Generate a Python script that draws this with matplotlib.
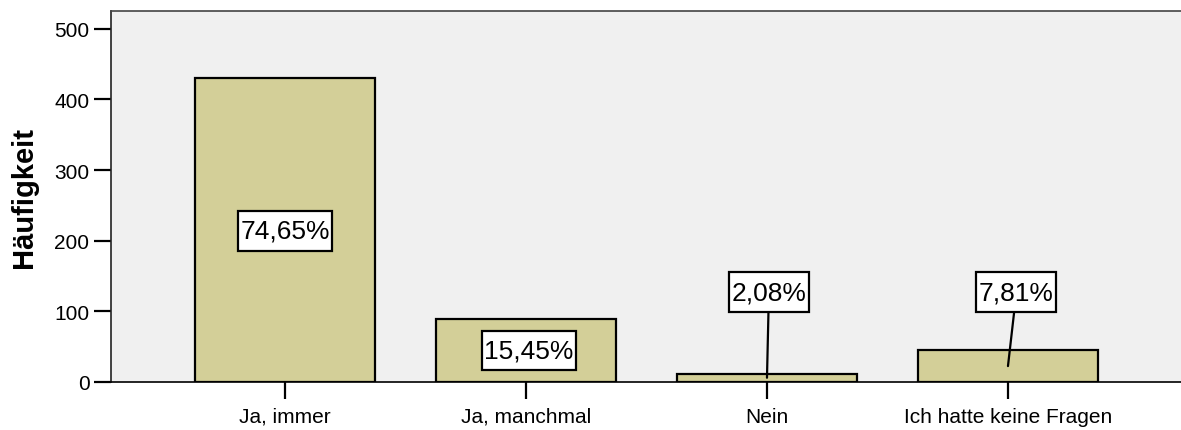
import numpy as np
import matplotlib
matplotlib.use('Agg')
import matplotlib.pyplot as plt
from matplotlib.path import Path

# Counts per answer (N = 576), percentages as shown on the chart
categories = ['Ja, immer', 'Ja, manchmal', 'Nein', 'Ich hatte keine Fragen']
counts = [430, 89, 12, 45]
pct_labels = ['74,65%', '15,45%', '2,08%', '7,81%']
yticks = [0, 100, 200, 300, 400, 500]

plt.rcParams['font.family'] = ['Liberation Sans', 'DejaVu Sans']


def label_box(x0, y0, width, height, mutation_size):
    # SPSS style label box: little side padding, more room above/below
    px = 0.1 * mutation_size
    py = 0.3 * mutation_size
    x0, y0 = x0 - px, y0 - py
    x1, y1 = x0 + width + 2 * px, y0 + height + 2 * py
    return Path([(x0, y0), (x1, y0), (x1, y1), (x0, y1), (x0, y0)], closed=True)


fig = plt.figure(figsize=(11.81, 4.31), dpi=100)
ax = fig.add_axes([0.094, 0.1114, 0.906, 0.8606])
ax.set_facecolor('#F0F0F0')

x = np.arange(len(categories))
ax.bar(x, counts, width=0.747, color='#D3CF98', edgecolor='black', linewidth=1.6, zorder=2)

ax.set_xlim(-0.722, 3.718)
ax.set_ylim(0, 525)
ax.set_xticks(x)
ax.set_xticklabels(categories, fontsize=15)
ax.set_yticks(yticks)
ax.set_yticklabels([str(v) for v in yticks], fontsize=15)
ax.tick_params(axis='both', direction='out', length=12, width=1.6, color='black')
ax.tick_params(axis='x', pad=6)
ax.set_ylabel('Häufigkeit', fontsize=21, fontweight='bold', labelpad=12)

ax.spines['right'].set_visible(False)
for s in ['left', 'top', 'bottom']:
    ax.spines[s].set_linewidth(1.2)
ax.spines['top'].set_color('#444444')
ax.spines['left'].set_color('#222222')

# label boxes: inside the two large bars, above the two small ones with a leader line
box = dict(boxstyle=label_box, fc='white', ec='black', lw=1.6)
inside = [True, True, False, False]
for i, (c, lab) in enumerate(zip(counts, pct_labels)):
    if inside[i]:
        ty = 214 if i == 0 else c / 2
        ax.text(x[i] + (0.012 if i == 1 else 0), ty, lab, ha='center', va='center',
                fontsize=19, bbox=box, zorder=4)
    else:
        ax.annotate(lab, xy=(x[i], c / 2), xytext=(x[i] + (0.008 if i == 2 else 0.035), 127),
                    ha='center', va='center', fontsize=19, bbox=box, zorder=4,
                    arrowprops=dict(arrowstyle='-', color='black', lw=1.6,
                                    shrinkA=0, shrinkB=0))

fig.savefig('out.png', dpi=100)
